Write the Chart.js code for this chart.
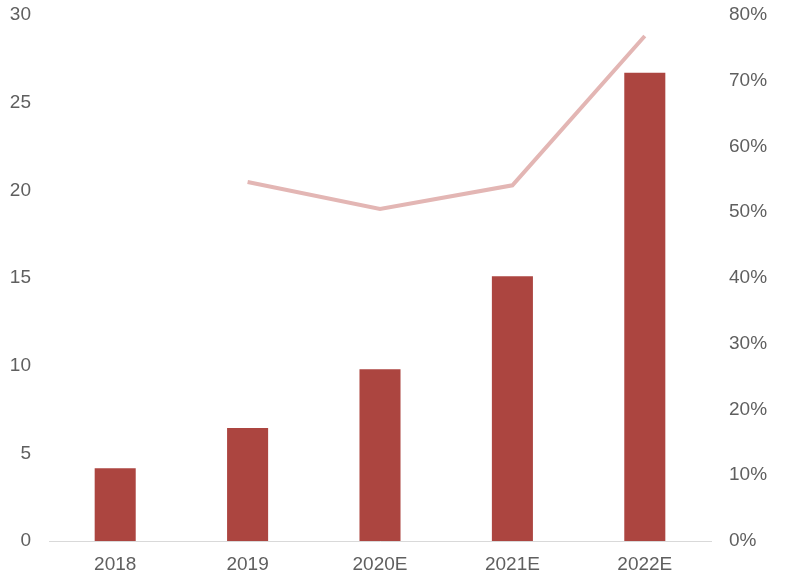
<!DOCTYPE html>
<html>
<head>
<meta charset="utf-8">
<script src="https://cdn.jsdelivr.net/npm/chart.js@4/dist/chart.umd.min.js"></script>
<style>
  html, body { margin: 0; padding: 0; background: #fff; }
  #wrap { width: 800px; height: 583px; }
</style>
</head>
<body>
<div id="wrap"><canvas id="grafico"></canvas></div>
<script>
// datos
const categorias = ["2018", "2019", "2020E", "2021E", "2022E"];
const valores = [4.15, 6.45, 9.8, 15.1, 26.7];
const crecimiento = [null, 54.6, 50.5, 54.1, 76.8];

const ticksIzq = [0, 5, 10, 15, 20, 25, 30];
const ticksDer = [0, 10, 20, 30, 40, 50, 60, 70, 80];

const fuente = { family: "Liberation Sans, Arial, sans-serif", size: 19 };
const gris = "#5f5f5f";

new Chart(document.getElementById("grafico"), {
  data: {
    labels: categorias,
    datasets: [
      {
        type: "line",
        data: crecimiento,
        yAxisID: "y2",
        borderColor: "#e3b6b4",
        borderWidth: 4,
        pointRadius: 0,
        tension: 0,
        order: 0
      },
      {
        type: "bar",
        data: valores,
        yAxisID: "y",
        backgroundColor: "#ac4540",
        categoryPercentage: 1,
        barPercentage: 0.31,
        order: 1
      }
    ]
  },
  options: {
    responsive: true,
    maintainAspectRatio: false,
    animation: false,
    layout: { padding: { top: 15, left: 0, right: 0, bottom: 0 } },
    plugins: { legend: { display: false }, tooltip: { enabled: false } },
    scales: {
      x: {
        grid: { display: false, drawTicks: false },
        border: { display: true, color: "#d9d9d9", width: 1 },
        ticks: { color: gris, font: fuente, padding: 12 },
        afterFit: s => { s.height = 42; }
      },
      y: {
        position: "left",
        min: 0, max: 30,
        grid: { display: false, drawTicks: false },
        border: { display: false },
        afterBuildTicks: s => { s.ticks = ticksIzq.map(v => ({ value: v })); },
        ticks: { color: gris, font: fuente, padding: 18 },
        afterFit: s => { s.width = 49; s.paddingTop = 0; s.paddingBottom = 0; }
      },
      y2: {
        position: "right",
        min: 0, max: 80,
        grid: { display: false, drawTicks: false },
        border: { display: false },
        afterBuildTicks: s => { s.ticks = ticksDer.map(v => ({ value: v })); },
        ticks: { color: gris, font: fuente, padding: 18, callback: v => v + "%" },
        afterFit: s => { s.width = 89; s.paddingTop = 0; s.paddingBottom = 0; }
      }
    }
  }
});
</script>
</body>
</html>
